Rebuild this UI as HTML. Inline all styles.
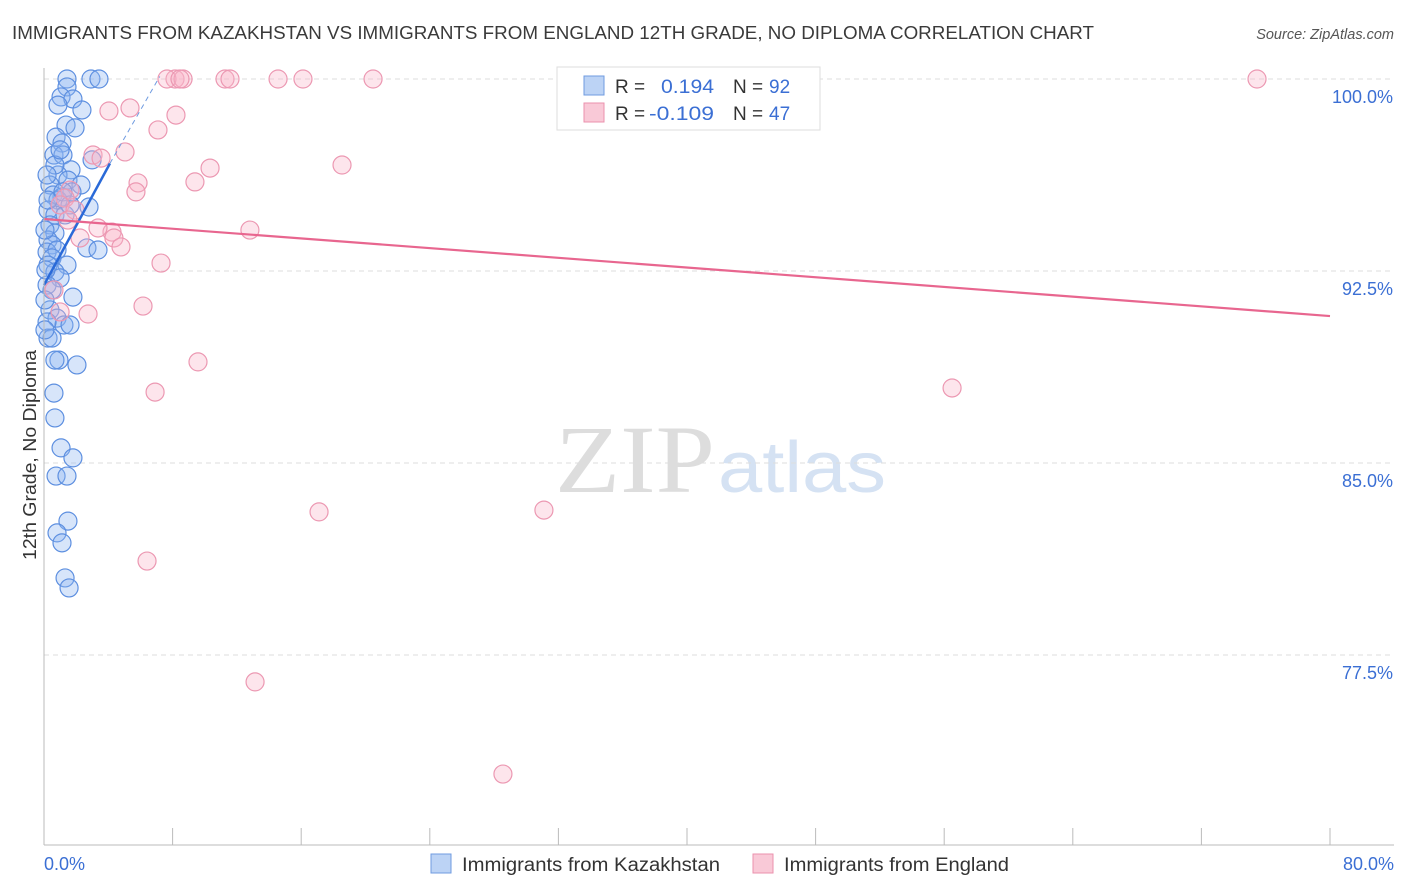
<!DOCTYPE html>
<html><head><meta charset="utf-8"><style>
body{margin:0;background:#fff;font-family:"Liberation Sans",sans-serif;}
svg{display:block}
</style></head><body>
<svg id="chart" width="1406" height="892">
<text x="12" y="39" font-size="18" fill="#3a3a3a" textLength="1082" lengthAdjust="spacingAndGlyphs">IMMIGRANTS FROM KAZAKHSTAN VS IMMIGRANTS FROM ENGLAND 12TH GRADE, NO DIPLOMA CORRELATION CHART</text>
<text x="1394" y="39" font-size="14.5" fill="#555" font-style="italic" text-anchor="end">Source: ZipAtlas.com</text>
<text x="36" y="455" font-size="18" fill="#333" transform="rotate(-90 36 455)" text-anchor="middle" textLength="210" lengthAdjust="spacingAndGlyphs">12th Grade, No Diploma</text>
<text x="555" y="492" font-size="96" fill="#ddd" font-family="Liberation Serif" textLength="160" lengthAdjust="spacingAndGlyphs">ZIP</text>
<text x="718" y="492" font-size="72" fill="#d5e2f3" textLength="168" lengthAdjust="spacingAndGlyphs">atlas</text>
<g id="grid"></g><g id="pts"></g><g id="lines"></g>
<line x1="44" y1="68" x2="44" y2="845" stroke="#bbb"/>
<line x1="44" y1="845" x2="1394" y2="845" stroke="#bbb"/>
<text x="44" y="870" font-size="18" fill="#3b6fd4">0.0%</text>
<text x="1394" y="870" font-size="18" fill="#3b6fd4" text-anchor="end">80.0%</text>
<g>
<rect x="557" y="67" width="263" height="63" fill="#fff" stroke="#ddd"/>
<rect x="584" y="76" width="20" height="19" fill="#bcd3f5" stroke="#6f9be0"/>
<rect x="584" y="103" width="20" height="19" fill="#f9c9d7" stroke="#eb91ad"/>
<text x="615" y="93" font-size="19" fill="#333">R = </text><text x="661" y="93" font-size="19" fill="#3b6fd4" textLength="53" lengthAdjust="spacingAndGlyphs">0.194</text>
<text x="733" y="93" font-size="19" fill="#333">N = </text><text x="769" y="93" font-size="19" fill="#3b6fd4">92</text>
<text x="615" y="120" font-size="19" fill="#333">R = </text><text x="649" y="120" font-size="19" fill="#3b6fd4" textLength="65" lengthAdjust="spacingAndGlyphs">-0.109</text>
<text x="733" y="120" font-size="19" fill="#333">N = </text><text x="769" y="120" font-size="19" fill="#3b6fd4">47</text>
</g>
<g>
<rect x="431" y="854" width="20" height="19" fill="#bcd3f5" stroke="#6f9be0"/>
<text x="462" y="871" font-size="19" fill="#333" textLength="258" lengthAdjust="spacingAndGlyphs">Immigrants from Kazakhstan</text>
<rect x="753" y="854" width="20" height="19" fill="#f9c9d7" stroke="#eb91ad"/>
<text x="784" y="871" font-size="19" fill="#333" textLength="225" lengthAdjust="spacingAndGlyphs">Immigrants from England</text>
</g>
</svg>
<script>
const yTicks=[100,92.5,85,77.5];
const yTickLabels=["100.0%","92.5%","85.0%","77.5%"];
const xTicks=[0,8,16,24,32,40,48,56,64,72,80];
const bluePx=[[67,79],[91,79],[99,79],[67,87],[61,97],[73,99],[58,105],[82,110],[66,125],[75,128],[56,137],[62,143],[54,155],[63,155],[92,160],[71,170],[58,175],[68,180],[81,185],[50,185],[53,195],[62,197],[72,192],[58,200],[89,207],[48,210],[55,215],[65,215],[50,225],[55,233],[48,240],[52,245],[47,252],[57,250],[87,248],[98,250],[52,258],[48,265],[67,265],[55,272],[60,278],[47,285],[52,290],[73,297],[50,310],[57,318],[64,325],[70,325],[47,322],[48,338],[52,338],[59,360],[55,360],[77,365],[54,393],[55,418],[61,448],[73,458],[56,476],[67,476],[68,521],[57,533],[62,543],[65,578],[69,588],[48,200],[45,230],[46,270],[45,300],[45,330],[63,192],[70,205],[55,165],[60,150],[47,175]];
const pinkPx=[[175,79],[167,79],[183,79],[180,79],[225,79],[230,79],[278,79],[303,79],[373,79],[574,79],[1257,79],[109,111],[130,108],[176,115],[158,130],[125,152],[93,155],[101,158],[210,168],[342,165],[138,183],[136,192],[195,182],[70,190],[65,198],[60,205],[75,210],[68,220],[250,230],[112,232],[98,228],[114,238],[121,247],[80,238],[161,263],[143,306],[88,314],[60,312],[198,362],[155,392],[952,388],[319,512],[544,510],[147,561],[255,682],[503,774],[54,290]];
const blueX=bluePx.map(p=>+((p[0]-44)/16.075).toFixed(2));
const blueY=bluePx.map(p=>+(100-(p[1]-79)/25.6).toFixed(2));
const pinkX=pinkPx.map(p=>+((p[0]-44)/16.075).toFixed(2));
const pinkY=pinkPx.map(p=>+(100-(p[1]-79)/25.6).toFixed(2));
const blueTrend=[[0,91.95],[4.1,96.7],[7.2,100.1]];
const pinkTrend=[[0,94.53],[80,90.74]];
const X=v=>44+v*16.075, Y=v=>79+(100-v)*25.6;
const NS="http://www.w3.org/2000/svg";
function mk(t,a,p){const e=document.createElementNS(NS,t);for(const k in a)e.setAttribute(k,a[k]);p.appendChild(e);return e;}
const grid=document.getElementById('grid');
yTicks.forEach((t,i)=>{
 const l=mk('line',{x1:44,x2:1394,y1:Y(t),y2:Y(t),stroke:'#ddd','stroke-dasharray':'5,4'},grid);
 
 
 const tx=mk('text',{x:1393,y:Y(t)+24,'font-size':18,fill:'#3b6fd4','text-anchor':'end'},grid);
 tx.textContent=yTickLabels[i];
 
 
});
xTicks.forEach(t=>{
 const l=mk('line',{x1:X(t),x2:X(t),y1:828,y2:845,stroke:'#bbb'},grid);
 
 
});
const pts=document.getElementById('pts');
blueX.forEach((x,i)=>{
 const c=mk('circle',{cx:X(x),cy:Y(blueY[i]),r:9,fill:'rgba(140,180,240,0.35)',stroke:'#5d8fe0','stroke-width':1.2},pts);
 
 
});
pinkX.forEach((x,i)=>{
 const c=mk('circle',{cx:X(x),cy:Y(pinkY[i]),r:9,fill:'rgba(248,180,200,0.35)',stroke:'#ec98b2','stroke-width':1.2},pts);
 
 
});
const lines=document.getElementById('lines');
let b=mk('line',{x1:X(blueTrend[0][0]),y1:Y(blueTrend[0][1]),x2:X(blueTrend[1][0]),y2:Y(blueTrend[1][1]),stroke:'#2a6ad8','stroke-width':2.5},lines);


let bd=mk('line',{x1:X(blueTrend[1][0]),y1:Y(blueTrend[1][1]),x2:X(blueTrend[2][0]),y2:Y(blueTrend[2][1]),stroke:'#6f9be0','stroke-width':1,'stroke-dasharray':'5,4'},lines);


let p=mk('line',{x1:X(pinkTrend[0][0]),y1:Y(pinkTrend[0][1]),x2:X(pinkTrend[1][0]),y2:Y(pinkTrend[1][1]),stroke:'#e8668f','stroke-width':2.2},lines);


</script>
</body></html>
